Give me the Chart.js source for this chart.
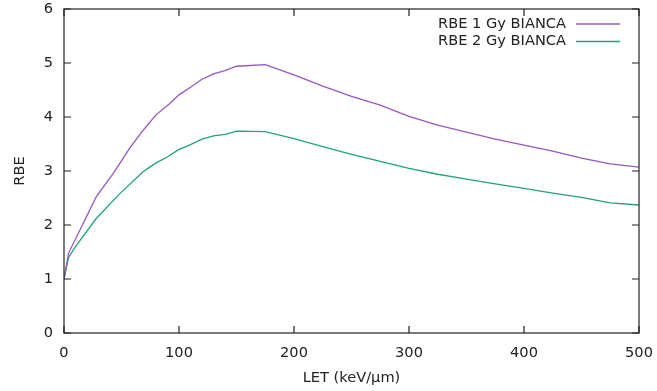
<!DOCTYPE html>
<html>
<head>
<meta charset="utf-8">
<script src="https://cdn.jsdelivr.net/npm/chart.js@4"></script>
<style>
  html, body { margin: 0; padding: 0; background: #fff; }
  #wrap { width: 657px; height: 391px; }
</style>
</head>
<body>
<div id="wrap"><canvas id="rbeChart" width="657" height="391"></canvas></div>
<script>
// RBE vs LET
const let1Gy = [0, 4, 28, 43, 57, 69, 80, 92, 100, 110, 120, 130, 140, 150, 175, 200, 225, 250, 275, 300, 325, 350, 375, 400, 425, 450, 475, 500];
const rbe1Gy = [1.00, 1.48, 2.52, 2.96, 3.42, 3.76, 4.04, 4.25, 4.41, 4.55, 4.70, 4.80, 4.86, 4.94, 4.97, 4.78, 4.57, 4.38, 4.22, 4.01, 3.85, 3.72, 3.59, 3.48, 3.37, 3.24, 3.13, 3.07];

const let2Gy = [0, 4, 10, 28, 49, 69, 80, 89, 100, 110, 120, 130, 140, 150, 175, 200, 225, 250, 275, 300, 325, 350, 375, 400, 425, 450, 475, 500];
const rbe2Gy = [1.00, 1.40, 1.60, 2.12, 2.59, 2.99, 3.15, 3.25, 3.40, 3.49, 3.59, 3.65, 3.68, 3.74, 3.73, 3.60, 3.45, 3.31, 3.18, 3.05, 2.94, 2.85, 2.76, 2.68, 2.59, 2.51, 2.41, 2.37];

const seriesNames = ["RBE 1 Gy BIANCA", "RBE 2 Gy BIANCA"];
const seriesColors = ["#9458bd", "#1fa37a"];
const xTicks = [0, 100, 200, 300, 400, 500];
const yTicks = [0, 1, 2, 3, 4, 5, 6];

const FONT = "DejaVu Sans";
const FSIZE = 14.6;
const INK = "#222";

function toPoints(xs, ys) {
  return xs.map((x, i) => ({ x: x, y: ys[i] }));
}

// gnuplot-like frame: border box + inward ticks on all four sides
const framePlugin = {
  id: "frame",
  afterDatasetsDraw(chart) {
    const { ctx, chartArea: a, scales } = chart;
    const len = 7;
    ctx.save();
    ctx.strokeStyle = INK;
    ctx.lineWidth = 1.2;
    ctx.strokeRect(a.left, a.top, a.right - a.left, a.bottom - a.top);
    ctx.beginPath();
    xTicks.forEach(v => {
      const px = scales.x.getPixelForValue(v);
      ctx.moveTo(px, a.bottom); ctx.lineTo(px, a.bottom - len);
      ctx.moveTo(px, a.top); ctx.lineTo(px, a.top + len);
    });
    yTicks.forEach(v => {
      const py = scales.y.getPixelForValue(v);
      ctx.moveTo(a.left, py); ctx.lineTo(a.left + len, py);
      ctx.moveTo(a.right, py); ctx.lineTo(a.right - len, py);
    });
    ctx.stroke();
    ctx.restore();
  }
};

// legend inside the top right corner, text first then the line sample
const keyPlugin = {
  id: "key",
  afterDraw(chart) {
    const { ctx } = chart;
    const textRight = 566, lineFrom = 576, lineTo = 620;
    const rows = [24, 41.5];
    ctx.save();
    ctx.font = FSIZE + "px '" + FONT + "'";
    ctx.textAlign = "right";
    ctx.textBaseline = "middle";
    chart.data.datasets.forEach((ds, i) => {
      ctx.fillStyle = INK;
      ctx.fillText(ds.label, textRight, rows[i]);
      ctx.strokeStyle = ds.borderColor;
      ctx.lineWidth = 1.6;
      ctx.beginPath();
      ctx.moveTo(lineFrom, rows[i]);
      ctx.lineTo(lineTo, rows[i]);
      ctx.stroke();
    });
    ctx.restore();
  }
};

const ctx = document.getElementById("rbeChart").getContext("2d");
new Chart(ctx, {
  type: "line",
  data: {
    datasets: [
      { label: seriesNames[0], data: toPoints(let1Gy, rbe1Gy), borderColor: seriesColors[0], borderWidth: 1.3, pointRadius: 0, tension: 0, fill: false },
      { label: seriesNames[1], data: toPoints(let2Gy, rbe2Gy), borderColor: seriesColors[1], borderWidth: 1.3, pointRadius: 0, tension: 0, fill: false }
    ]
  },
  options: {
    responsive: false,
    animation: false,
    layout: { padding: { top: 9, right: 18, left: 0, bottom: 0 } },
    plugins: { legend: { display: false }, tooltip: { enabled: false } },
    scales: {
      x: {
        type: "linear",
        min: 0, max: 500,
        afterBuildTicks: s => { s.ticks = xTicks.map(v => ({ value: v })); },
        afterFit: s => { s.height = 58; s.paddingLeft = 0; s.paddingRight = 0; },
        grid: { display: false, drawTicks: false },
        border: { display: false },
        ticks: { padding: 11, color: INK, font: { family: FONT, size: FSIZE }, maxRotation: 0 },
        title: { display: true, text: "LET (keV/\u03bcm)", color: INK, font: { family: FONT, size: FSIZE }, padding: { top: 0, bottom: 4 } }
      },
      y: {
        type: "linear",
        min: 0, max: 6,
        afterBuildTicks: s => { s.ticks = yTicks.map(v => ({ value: v })); },
        afterFit: s => { s.width = 64; s.paddingTop = 0; s.paddingBottom = 0; },
        grid: { display: false, drawTicks: false },
        border: { display: false },
        ticks: { padding: 11, color: INK, font: { family: FONT, size: FSIZE } },
        title: { display: true, text: "RBE", color: INK, font: { family: FONT, size: FSIZE }, padding: { top: 11, bottom: 0 } }
      }
    }
  },
  plugins: [framePlugin, keyPlugin]
});
</script>
</body>
</html>
